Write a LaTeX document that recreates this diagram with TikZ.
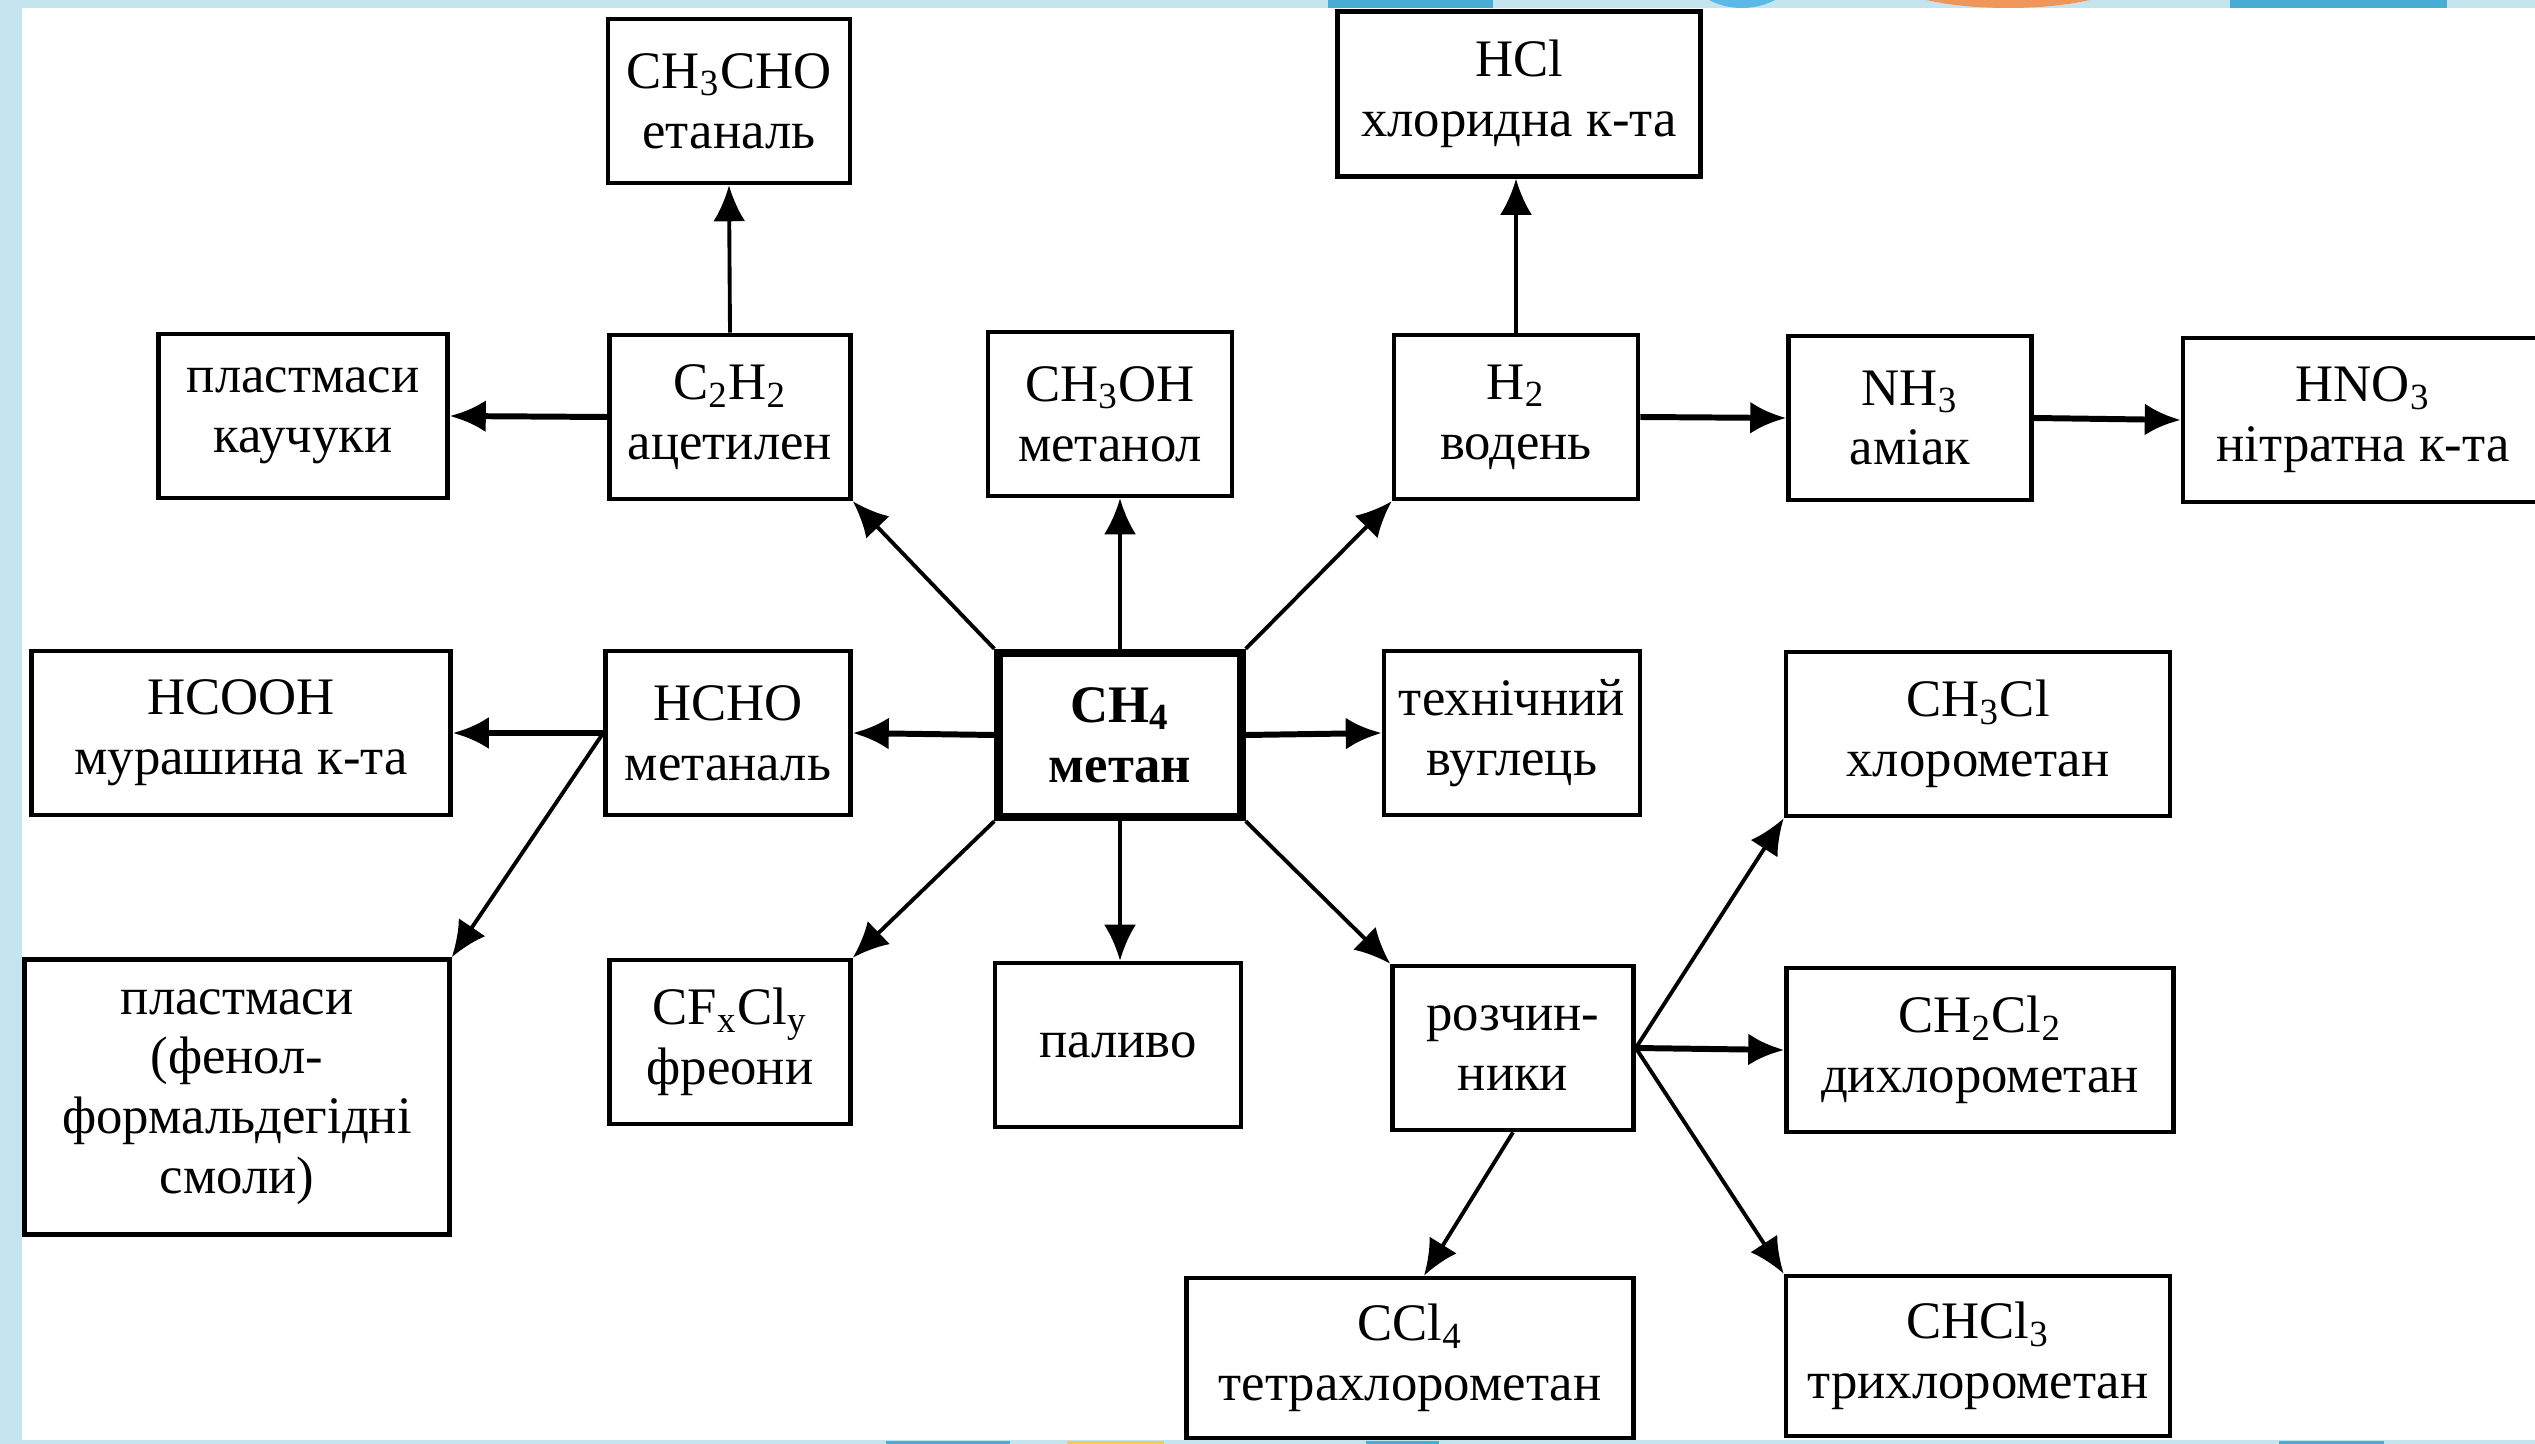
\documentclass[tikz,border=0pt]{standalone}
\usepackage{fontspec}
\setmainfont{Liberation Serif}
\usetikzlibrary{arrows.meta}
\definecolor{frameblue}{RGB}{196,228,238}
\definecolor{decoblue}{RGB}{72,172,212}
\definecolor{decosky}{RGB}{90,185,230}
\definecolor{decoorange}{RGB}{240,150,90}
\definecolor{decoyellow}{RGB}{245,200,90}

\begin{document}
\begin{tikzpicture}[>={Latex[length=3.6mm,width=3.2mm]}, line width=1.1pt,
    every node/.style={font=\fontsize{15pt}{17pt}\selectfont, align=center},
    box/.style={draw, rectangle, line width=1.3pt, inner sep=0pt, minimum height=1.64cm},
    mainbox/.style={box, line width=2.4pt, font=\fontsize{15pt}{17pt}\selectfont\bfseries},
    thickarrow/.style={->, line width=1.7pt}]
        % Frame
        \useasboundingbox (0,0) rectangle (25.35,-14.44);
        \fill[frameblue] (0,0) rectangle (25.35,-14.44);
        \fill[white] (0.22,-0.08) rectangle (25.35,-14.40);
        \fill[decoblue] (13.28,0) rectangle (14.93,-0.08);
        \fill[decosky] (17.42,0.64) circle (0.72);
        \fill[decoorange] (20.08,0.22) ellipse (1.2 and 0.3);
        \fill[decoblue] (22.30,0) rectangle (24.47,-0.08);
        \fill[decoblue] (8.86,-14.41) rectangle (10.10,-14.44);
        \fill[decoyellow] (10.67,-14.41) rectangle (11.64,-14.44);
        \fill[decoblue] (13.66,-14.41) rectangle (14.39,-14.44);
        \fill[decoblue] (22.79,-14.41) rectangle (23.84,-14.44);

        % Top row
        \node[box, minimum width=2.42cm] (ethanal) at (7.29,-1.01) {CH\textsubscript{3}CHO\\етаналь};
        \node[box, minimum width=3.63cm, minimum height=1.65cm] (hcl) at (15.19,-0.94) {HCl\\хлоридна к-та};

        % Second row
        \node[box, minimum width=2.89cm] (rubber) at (3.03,-4.16) {пластмаси\\каучуки};
        \node[box, minimum width=2.41cm] (acetylene) at (7.30,-4.17) {C\textsubscript{2}H\textsubscript{2}\\ацетилен};
        \node[box, minimum width=2.44cm] (methanol) at (11.10,-4.14) {CH\textsubscript{3}OH\\метанол};
        \node[box, minimum width=2.44cm] (hydrogen) at (15.16,-4.17) {H\textsubscript{2}\\водень};
        \node[box, minimum width=2.43cm] (ammonia) at (19.10,-4.18) {NH\textsubscript{3}\\аміак};
        \node[box, minimum width=3.60cm] (nitric) at (23.63,-4.20) {HNO\textsubscript{3}\\нітратна к-та};

        % Middle row
        \node[box, minimum width=4.19cm] (formic) at (2.41,-7.33) {HCOOH\\мурашина к-та};
        \node[box, minimum width=2.45cm] (methanal) at (7.28,-7.33) {HCHO\\метаналь};
        \node[mainbox, minimum width=2.43cm] (methane) at (11.20,-7.35) {CH\textsubscript{4}\\метан};
        \node[box, minimum width=2.56cm] (carbon) at (15.12,-7.33) {технічний\\вуглець};
        \node[box, minimum width=3.84cm] (chloromethane) at (19.78,-7.34) {CH\textsubscript{3}Cl\\хлорометан};

        % Fourth row
        \node[box, minimum width=4.25cm, minimum height=2.75cm] (resins) at (2.37,-10.97) {пластмаси\\(фенол-\\формальдегідні\\смоли)};
        \node[box, minimum width=2.41cm] (freons) at (7.30,-10.42) {CF\textsubscript{x}Cl\textsubscript{y}\\фреони};
        \node[box, minimum width=2.46cm] (fuel) at (11.18,-10.45) {паливо};
        \node[box, minimum width=2.41cm] (solvents) at (15.13,-10.48) {розчин-\\ники};
        \node[box, minimum width=3.87cm] (dichloromethane) at (19.80,-10.50) {CH\textsubscript{2}Cl\textsubscript{2}\\дихлорометан};

        % Bottom row
        \node[box, minimum width=4.47cm, minimum height=1.60cm] (tetrachloromethane) at (14.10,-13.58) {CCl\textsubscript{4}\\тетрахлорометан};
        \node[box, minimum width=3.84cm, minimum height=1.60cm] (chloroform) at (19.78,-13.56) {CHCl\textsubscript{3}\\трихлорометан};

        % Connections
        \draw[->] (acetylene.north) -- (ethanal.south);
        \draw[thickarrow] (acetylene.west) -- (rubber.east);
        \draw[->] (methane.north west) -- (acetylene.south east);
        \draw[->] (methane.north) -- (methane.north |- methanol.south);
        \draw[->] (methane.north east) -- (hydrogen.south west);
        \draw[->] (hydrogen.north) -- (hydrogen.north |- hcl.south);
        \draw[thickarrow] (hydrogen.east) -- (ammonia.west);
        \draw[thickarrow] (ammonia.east) -- (nitric.west);
        \draw[thickarrow] (methane.west) -- (methanal.east);
        \draw[thickarrow] (methanal.west) -- (formic.east);
        \draw[->] (methanal.west) -- (resins.north east);
        \draw[thickarrow] (methane.east) -- (carbon.west);
        \draw[->] (methane.south west) -- (freons.north east);
        \draw[->] (methane.south) -- (methane.south |- fuel.north);
        \draw[->] (methane.south east) -- (solvents.north west);
        \draw[->] (solvents.east) -- (chloromethane.south west);
        \draw[thickarrow] (solvents.east) -- (dichloromethane.west);
        \draw[->] (solvents.east) -- (chloroform.north west);
        \draw[->] (solvents.south) -- ([xshift=1.4mm]tetrachloromethane.north);
\end{tikzpicture}
\end{document}
